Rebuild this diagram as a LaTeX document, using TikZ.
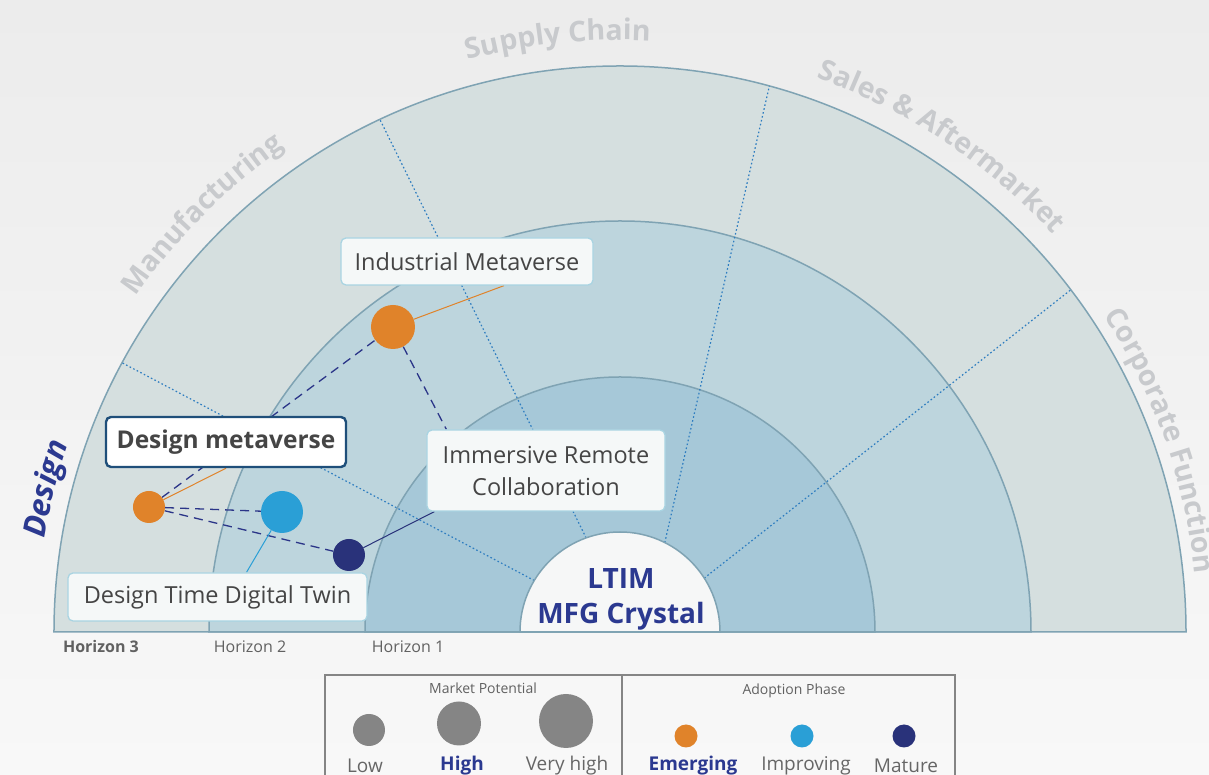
\documentclass[tikz,border=0pt]{standalone}
\usepackage{fontspec}
\setmainfont{Open Sans}
\usetikzlibrary{positioning,calc,decorations.text,backgrounds}

\definecolor{bgtop}{HTML}{ECECEC}
\definecolor{bgbot}{HTML}{F8F8F8}
\definecolor{ringout}{HTML}{D5DFDF}
\definecolor{ringmid}{HTML}{BDD5DD}
\definecolor{ringin}{HTML}{A6C8D8}
\definecolor{corefill}{HTML}{F6F7F7}
\definecolor{ringline}{HTML}{7FA3B3}
\definecolor{dotblue}{HTML}{2E7DC0}
\definecolor{navy}{HTML}{2B3588}
\definecolor{emerging}{HTML}{E0832A}
\definecolor{improving}{HTML}{2A9FD6}
\definecolor{mature}{HTML}{29327A}
\definecolor{brandblue}{HTML}{2B3990}
\definecolor{catgray}{HTML}{C8CACD}
\definecolor{tagline}{HTML}{A9D4E2}
\definecolor{tagfill}{HTML}{F5F8F8}
\definecolor{dmline}{HTML}{1F4F7A}
\definecolor{textgray}{HTML}{454545}
\definecolor{legendgray}{HTML}{858585}
\definecolor{legendtext}{HTML}{666666}

\newcommand{\catfont}{\fontsize{28.5}{28.5}\selectfont\bfseries}
\newcommand{\designfont}{\fontsize{31}{31}\selectfont\bfseries\itshape}

\pgfdeclarelayer{rings}
\pgfdeclarelayer{links}
\pgfsetlayers{rings,links,main}

\begin{document}
\begin{tikzpicture}[
    x=1pt, y=1pt,
    ring/.style={draw=ringline, line width=1.5},
    sector/.style={dotblue, line width=1.2, dash pattern=on 1.6 off 2.4},
    tag/.style={rectangle, draw=tagline, fill=tagfill, line width=1.3, rounded corners=5,
                text=textgray, font=\fontsize{23.5}{32}\selectfont, align=center, inner sep=0},
    keytag/.style={tag, draw=dmline, fill=white, line width=2.4, font=\fontsize{24.5}{32}\selectfont\bfseries},
    bubble/.style={circle, inner sep=0, draw=none},
    dep/.style={navy, line width=1.3, dash pattern=on 9 off 6},
    lead/.style={line width=1},
    horizon/.style={font=\fontsize{16}{16}\selectfont, text=textgray!85},
    legendhead/.style={font=\fontsize{14}{14}\selectfont, text=textgray!85},
    legendlbl/.style={font=\fontsize{19}{19}\selectfont, text=legendtext},
    legendkey/.style={legendlbl, text=brandblue, font=\fontsize{19}{19}\selectfont\bfseries},
    catarc/.style={decorate, decoration={text along path, text align=center, text color=catgray}}
]
\useasboundingbox (-620,-143) rectangle (589,632);
\clip (-620,-143) rectangle (589,632);

% ============ OPPORTUNITY LABELS ============
\node[tag, minimum width=252, minimum height=47] (imeta) at (-153,370.5) {Industrial Metaverse};
\node[keytag, minimum width=240, minimum height=50] (dmeta) at (-394,190) {Design metaverse};
\node[tag, minimum width=238, minimum height=81] (irc) at (-74,161.5) {Immersive Remote\\Collaboration};
\node[tag, minimum width=299, minimum height=48] (dtwin) at (-402.5,35) {Design Time Digital Twin};

% Bubbles
\node[bubble, fill=emerging, minimum size=44] (imetadot) at (-227,305) {};
\node[bubble, fill=emerging, minimum size=32] (dmetadot) at (-471,125) {};
\node[bubble, fill=improving, minimum size=42] (dtwindot) at (-338,120) {};
\node[bubble, fill=mature, minimum size=32] (ircdot) at (-271,77) {};

% Core
\node[font=\fontsize{28}{35}\selectfont\bfseries, text=brandblue, align=center] (core) at (1,32.5) {LTIM\\MFG Crystal};

% Horizons
\node[horizon, font=\fontsize{16}{16}\selectfont\bfseries] (h3) at (-519,-15) {Horizon 3};
\node[horizon] (h2) at (-370,-15) {Horizon 2};
\node[horizon] (h1) at (-212,-15) {Horizon 1};

% ============ LEGEND ============
\draw[legendgray, line width=1.5] (-295,-43) rectangle (335,-170);
\draw[legendgray, line width=1.5] (2,-43) -- (2,-170);
\node[legendhead] (mphead) at (-137,-56) {Market Potential};
\node[legendhead] (aphead) at (174,-59) {Adoption Phase};

\node[bubble, fill=legendgray, minimum size=32] (lowdot) at (-251,-98) {};
\node[bubble, fill=legendgray, minimum size=44] (highdot) at (-161,-91.5) {};
\node[bubble, fill=legendgray, minimum size=54] (vhighdot) at (-54,-89) {};
\node[legendlbl] (lowlbl) at (-255,-134) {Low};
\node[legendkey] (highlbl) at (-158,-134) {High};
\node[legendlbl] (vhighlbl) at (-53,-134) {Very high};

\node[bubble, fill=emerging, minimum size=23] (emdot) at (66,-104) {};
\node[bubble, fill=improving, minimum size=23] (imdot) at (182,-104) {};
\node[bubble, fill=mature, minimum size=23] (madot) at (284,-104) {};
\node[legendkey] (emlbl) at (73,-134) {Emerging};
\node[legendlbl] (imlbl) at (186,-134) {Improving};
\node[legendlbl] (malbl) at (286,-134) {Mature};

% ============ RINGS ============
\begin{pgfonlayer}{rings}
\shade[top color=bgtop, bottom color=bgbot] (-620,-143) rectangle (589,632);
\draw[ring, fill=ringout] (-566,0) arc[start angle=180, end angle=0, radius=566] -- cycle;
\draw[ring, fill=ringmid] (-411,0) arc[start angle=180, end angle=0, radius=411] -- cycle;
\draw[ring, fill=ringin] (-255,0) arc[start angle=180, end angle=0, radius=255] -- cycle;

% sector borders
\draw[sector] (149:100) -- (151.6:566);
\draw[sector] (109.8:100) -- (115.1:566);
\draw[sector] (63.4:100) -- (74.7:566);
\draw[sector] (32.6:100) -- (37.2:566);

\draw[ring, fill=corefill] (-100,0) arc[start angle=180, end angle=0, radius=100] -- cycle;

% value chain labels
\path[catarc, decoration={text color=brandblue, text={|\designfont|Design}}]
    (186:583) arc[start angle=186, end angle=146, radius=583];
\path[catarc, decoration={text={|\catfont|Manufacturing}}]
    (157:589) arc[start angle=157, end angle=113, radius=589];
\path[catarc, decoration={text={|\catfont|Supply Chain}}]
    (118:592) arc[start angle=118, end angle=74, radius=592];
\path[catarc, decoration={text={|\catfont|Sales {\&} Aftermarket}}]
    (78:588) arc[start angle=78, end angle=35, radius=588];
\path[catarc, decoration={text={|\catfont|Corporate Function}}]
    (40:578) arc[start angle=40, end angle=-1, radius=578];
\end{pgfonlayer}

% ============ LINKS ============
\begin{pgfonlayer}{links}
\draw[dep] (dmetadot) -- (imetadot);
\draw[dep] (dmetadot) -- (dtwindot);
\draw[dep] (dmetadot) -- (ircdot);
\draw[dep] (imetadot) -- ([xshift=20]irc.north west);

\draw[lead, emerging] (imetadot) -- ([xshift=37]imeta.south);
\draw[lead, emerging] (dmetadot) -- (dmeta.south);
\draw[lead, improving] (dtwindot) -- ([xshift=29]dtwin.north);
\draw[lead, mature] (ircdot) -- ([xshift=8]irc.south west);
\end{pgfonlayer}

\end{tikzpicture}
\end{document}
